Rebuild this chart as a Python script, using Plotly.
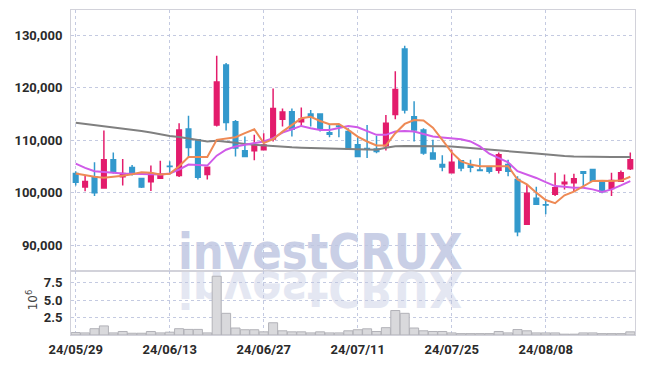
import base64
import plotly.graph_objects as go

dates = ["24/05/29", "24/05/30", "24/05/31",
         "24/06/03", "24/06/04", "24/06/05", "24/06/07", "24/06/10", "24/06/11", "24/06/12",
         "24/06/13", "24/06/14", "24/06/17", "24/06/18", "24/06/19", "24/06/20", "24/06/21",
         "24/06/24", "24/06/25", "24/06/26", "24/06/27", "24/06/28",
         "24/07/01", "24/07/02", "24/07/03", "24/07/04", "24/07/05", "24/07/08", "24/07/09",
         "24/07/10", "24/07/11", "24/07/12", "24/07/15", "24/07/16", "24/07/17", "24/07/18",
         "24/07/19", "24/07/22", "24/07/23", "24/07/24", "24/07/25", "24/07/26", "24/07/29",
         "24/07/30", "24/07/31",
         "24/08/01", "24/08/02", "24/08/05", "24/08/06", "24/08/07", "24/08/08", "24/08/09",
         "24/08/12", "24/08/13", "24/08/14", "24/08/16", "24/08/19", "24/08/20", "24/08/21",
         "24/08/22"]

open_ = [103640, 101060, 103020, 100870, 106280, 103020, 104770, 102700, 102090, 102750,
         105020, 103260, 112130, 110060, 103450, 112890, 124300, 113510, 107980, 107980,
         108170, 110190, 113960, 115400, 113510, 114960, 114960, 111400, 112700, 111620,
         109110, 108400, 108300, 108920, 114900, 127350, 114450, 111940, 107550, 105340,
         103770, 106090, 105150, 104300, 104830, 104260, 105340, 102510, 93960, 98920,
         97700, 99680, 101700, 101890, 104000, 104400, 102190, 100810, 102190, 104530]
high = [104080, 103260, 105770, 111810, 107660, 106410, 105270, 102750, 105150, 106090,
        105960, 113200, 114640, 110100, 105000, 126060, 124680, 113830, 110680, 111000,
        111320, 119810, 116040, 116040, 116230, 115720, 114960, 112890, 113020, 112260,
        110560, 112890, 110810, 114770, 123130, 127950, 117410, 112260, 110060, 107100,
        108170, 106200, 106280, 106550, 104900, 107660, 106280, 103130, 101570, 101130,
        98740, 103770, 103450, 103580, 104000, 104400, 102190, 103770, 104200, 107660]
low = [101380, 100250, 99360, 100800, 103640, 101380, 103260, 100900, 100300, 102700,
       103450, 103000, 106790, 102500, 102500, 112570, 111810, 106900, 106800, 106150,
       108000, 109740, 112570, 110680, 112570, 112570, 111620, 110560, 110560, 108300,
       106900, 106600, 107500, 108040, 113960, 115090, 109740, 107230, 106420, 104080,
       103770, 104080, 103880, 104080, 103640, 103640, 103130, 91700, 93900, 97800,
       95900, 99360, 100620, 100300, 101250, 102190, 99880, 99360, 102190, 104300]
close = [102000, 102130, 100000, 106280, 104080, 103640, 103640, 101060, 103640, 103510,
         104960, 111940, 108600, 102940, 104830, 121060, 113370, 108490, 106900, 108920,
         109060, 116040, 115340, 112075, 114020, 114340, 112260, 111130, 112570, 108300,
         106900, 108300, 107850, 113210, 119620, 115720, 111940, 107550, 106420, 104900,
         105770, 104710, 104830, 104200, 104080, 107230, 104080, 92570, 99870, 97800,
         97650, 100940, 102000, 102640, 103700, 102190, 100190, 102320, 103770, 106280]

ma_short = [103640, 103260, 103020, 102830, 103000, 103200, 103500, 103890, 103770, 103450,
            103580, 105020, 106790, 106790, 106790, 110060, 110370, 110560, 111320, 112075,
            109430, 110180, 111620, 112890, 114150, 114450, 113640, 113020, 113080, 111940,
            110680, 109740, 108980, 108980, 111320, 113080, 113830, 113750, 112380, 110060,
            107660, 105960, 105340, 105020, 105020, 105150, 105020, 102510, 101570, 100000,
            98600, 98000, 99500, 100200, 101250, 102220, 102250, 102200, 102300, 103020]
ma_mid = [105530, 104720, 104080, 103890, 103770, 103640, 103580, 103560, 103450, 103450,
          103640, 104400, 105340, 105210, 105150, 107040, 108170, 108800, 109110, 109430,
          109740, 110370, 111440, 112075, 112700, 112260, 111940, 111940, 112380, 112700,
          112450, 111750, 111000, 111000, 111620, 111750, 111620, 111150, 110680, 110500,
          110370, 110180, 109740, 108800, 107420, 106600, 105770, 104080, 103450, 102800,
          102000, 101250, 101130, 100940, 100940, 100620, 100110, 100620, 101380, 102190]
ma_long = [113320, 113100, 112950, 112720, 112520, 112250, 111980, 111720, 111450, 111100,
           110800, 110600, 110330, 110000, 109750, 109870, 109720, 109500, 109250, 109100,
           108980, 108850, 108700, 108620, 108560, 108500, 108470, 108420, 108380, 108320,
           108250, 108200, 108170, 108550, 108820, 108900, 108920, 108900, 108880, 108850,
           108800, 108650, 108500, 108360, 108250, 108150, 108030, 107850, 107600, 107430,
           107250, 107100, 106960, 106880, 106830, 106800, 106790, 106780, 106780, 106790]

vol_millions = [0.35, 0.3, 0.9, 1.3, 0.3, 0.5, 0.25, 0.25, 0.5, 0.3,
                0.4, 0.9, 0.8, 0.8, 0.3, 8.4, 3.1, 1.0, 0.75, 0.75,
                0.45, 1.75, 0.6, 0.45, 0.45, 0.3, 0.45, 0.3, 0.3, 0.6,
                0.75, 0.88, 0.5, 1.05, 3.5, 3.1, 1.0, 0.6, 0.5, 0.5,
                0.3, 0.2, 0.2, 0.2, 0.2, 0.5, 0.3, 0.78, 0.6, 0.3,
                0.3, 0.3, 0.12, 0.12, 0.3, 0.3, 0.2, 0.2, 0.2, 0.45]

price_ticks = [90000, 100000, 110000, 120000, 130000]
vol_ticks = [2.5, 5.0, 7.5]
vol_tick_text = ["2.5", "5.0", "7.5"]

idx = list(range(len(dates)))
date_tick_idx = idx[::10]
date_tick_text = [dates[i] for i in date_tick_idx]

UP = "#e31c6c"
DOWN = "#3399cc"
GRID = "rgba(190,196,222,0.9)"
FRAME = "#d2d2da"
TICKFONT = dict(family="Roboto", size=13, color="#2a2a2a", weight="bold")

fig = go.Figure()

fig.add_trace(go.Candlestick(
    x=idx, open=open_, high=high, low=low, close=close,
    increasing=dict(line=dict(color=UP, width=1.5), fillcolor=UP),
    decreasing=dict(line=dict(color=DOWN, width=1.5), fillcolor=DOWN),
    xaxis="x", yaxis="y", showlegend=False, hoverinfo="skip"))

fig.add_trace(go.Scatter(x=idx, y=ma_long, mode="lines",
                         line=dict(color="#808080", width=2), xaxis="x", yaxis="y",
                         showlegend=False, hoverinfo="skip"))
fig.add_trace(go.Scatter(x=idx, y=ma_mid, mode="lines",
                         line=dict(color="#cf5be8", width=2), xaxis="x", yaxis="y",
                         showlegend=False, hoverinfo="skip"))
fig.add_trace(go.Scatter(x=idx, y=ma_short, mode="lines",
                         line=dict(color="#ee8a55", width=2), xaxis="x", yaxis="y",
                         showlegend=False, hoverinfo="skip"))

fig.add_trace(go.Bar(x=idx, y=vol_millions, xaxis="x2", yaxis="y2",
                     marker=dict(color="#d9d9dc", line=dict(color="#b2b2b8", width=1)),
                     showlegend=False, hoverinfo="skip"))

# watermark (text + mirrored reflection) as inline SVG images
WM_FONT = 'font-family="DejaVu Sans, Roboto, sans-serif" font-weight="bold" font-size="50"'


def svg_uri(flip):
    fill = "#e4e7f2" if flip else "#c9cfe6"
    if flip:
        body = ('<g transform="scale(1,-1)"><text x="2" y="-1.5" textLength="285" '
                f'lengthAdjust="spacingAndGlyphs" {WM_FONT} fill="{fill}">investCRUX</text></g>')
    else:
        body = ('<text x="2" y="48.5" textLength="285" lengthAdjust="spacingAndGlyphs" '
                f'{WM_FONT} fill="{fill}">investCRUX</text>')
    svg = ('<svg xmlns="http://www.w3.org/2000/svg" width="296" height="50" '
           f'viewBox="0 0 296 50">{body}</svg>')
    return "data:image/svg+xml;base64," + base64.b64encode(svg.encode()).decode()


px_per_idx = 564.5 / 60
fig.add_layout_image(dict(source=svg_uri(False), xref="x", yref="y",
                          x=(176 - 71) / px_per_idx - 0.5, y=94585,
                          sizex=296 / px_per_idx, sizey=50 * 188.68,
                          sizing="stretch", layer="below", xanchor="left", yanchor="top"))
fig.add_layout_image(dict(source=svg_uri(True), xref="x2", yref="y2",
                          x=(176 - 71) / px_per_idx - 0.5, y=9.2,
                          sizex=296 / px_per_idx, sizey=50 / 7.065,
                          sizing="stretch", layer="below", xanchor="left", yanchor="top"))

axis_common = dict(showline=True, mirror=True, linecolor=FRAME, linewidth=1,
                   showgrid=True, gridcolor=GRID, griddash="dot", gridwidth=1,
                   zeroline=False, ticks="", tickfont=TICKFONT)

fig.update_layout(
    width=645, height=366,
    margin=dict(l=71, r=10, t=9, b=29),
    paper_bgcolor="white", plot_bgcolor="white",
    showlegend=False,
    xaxis=dict(domain=[0, 1], anchor="y", range=[-0.5, 59.5], rangeslider=dict(visible=False),
               tickvals=date_tick_idx, ticktext=date_tick_text, showticklabels=False,
               **axis_common),
    yaxis=dict(domain=[0.198, 1], anchor="x", range=[85150, 134770],
               tickvals=price_ticks, tickformat=",d", ticklabelstandoff=5, **axis_common),
    xaxis2=dict(domain=[0, 1], anchor="y2", matches="x", range=[-0.5, 59.5],
                tickvals=date_tick_idx, ticktext=date_tick_text, ticklabelstandoff=2,
                **axis_common),
    yaxis2=dict(domain=[0, 0.198], anchor="x2", range=[0, 9.2],
                tickvals=vol_ticks, ticktext=vol_tick_text, ticklabelstandoff=5,
                **axis_common),
    bargap=0.04,
)

fig.add_annotation(text="10<sup>6</sup>", xref="paper", yref="paper",
                   x=-0.069, y=0.107, xanchor="center", yanchor="middle",
                   textangle=-90, showarrow=False,
                   font=dict(family="DejaVu Sans", size=12, color="#444"))

fig.write_html("out.html")
